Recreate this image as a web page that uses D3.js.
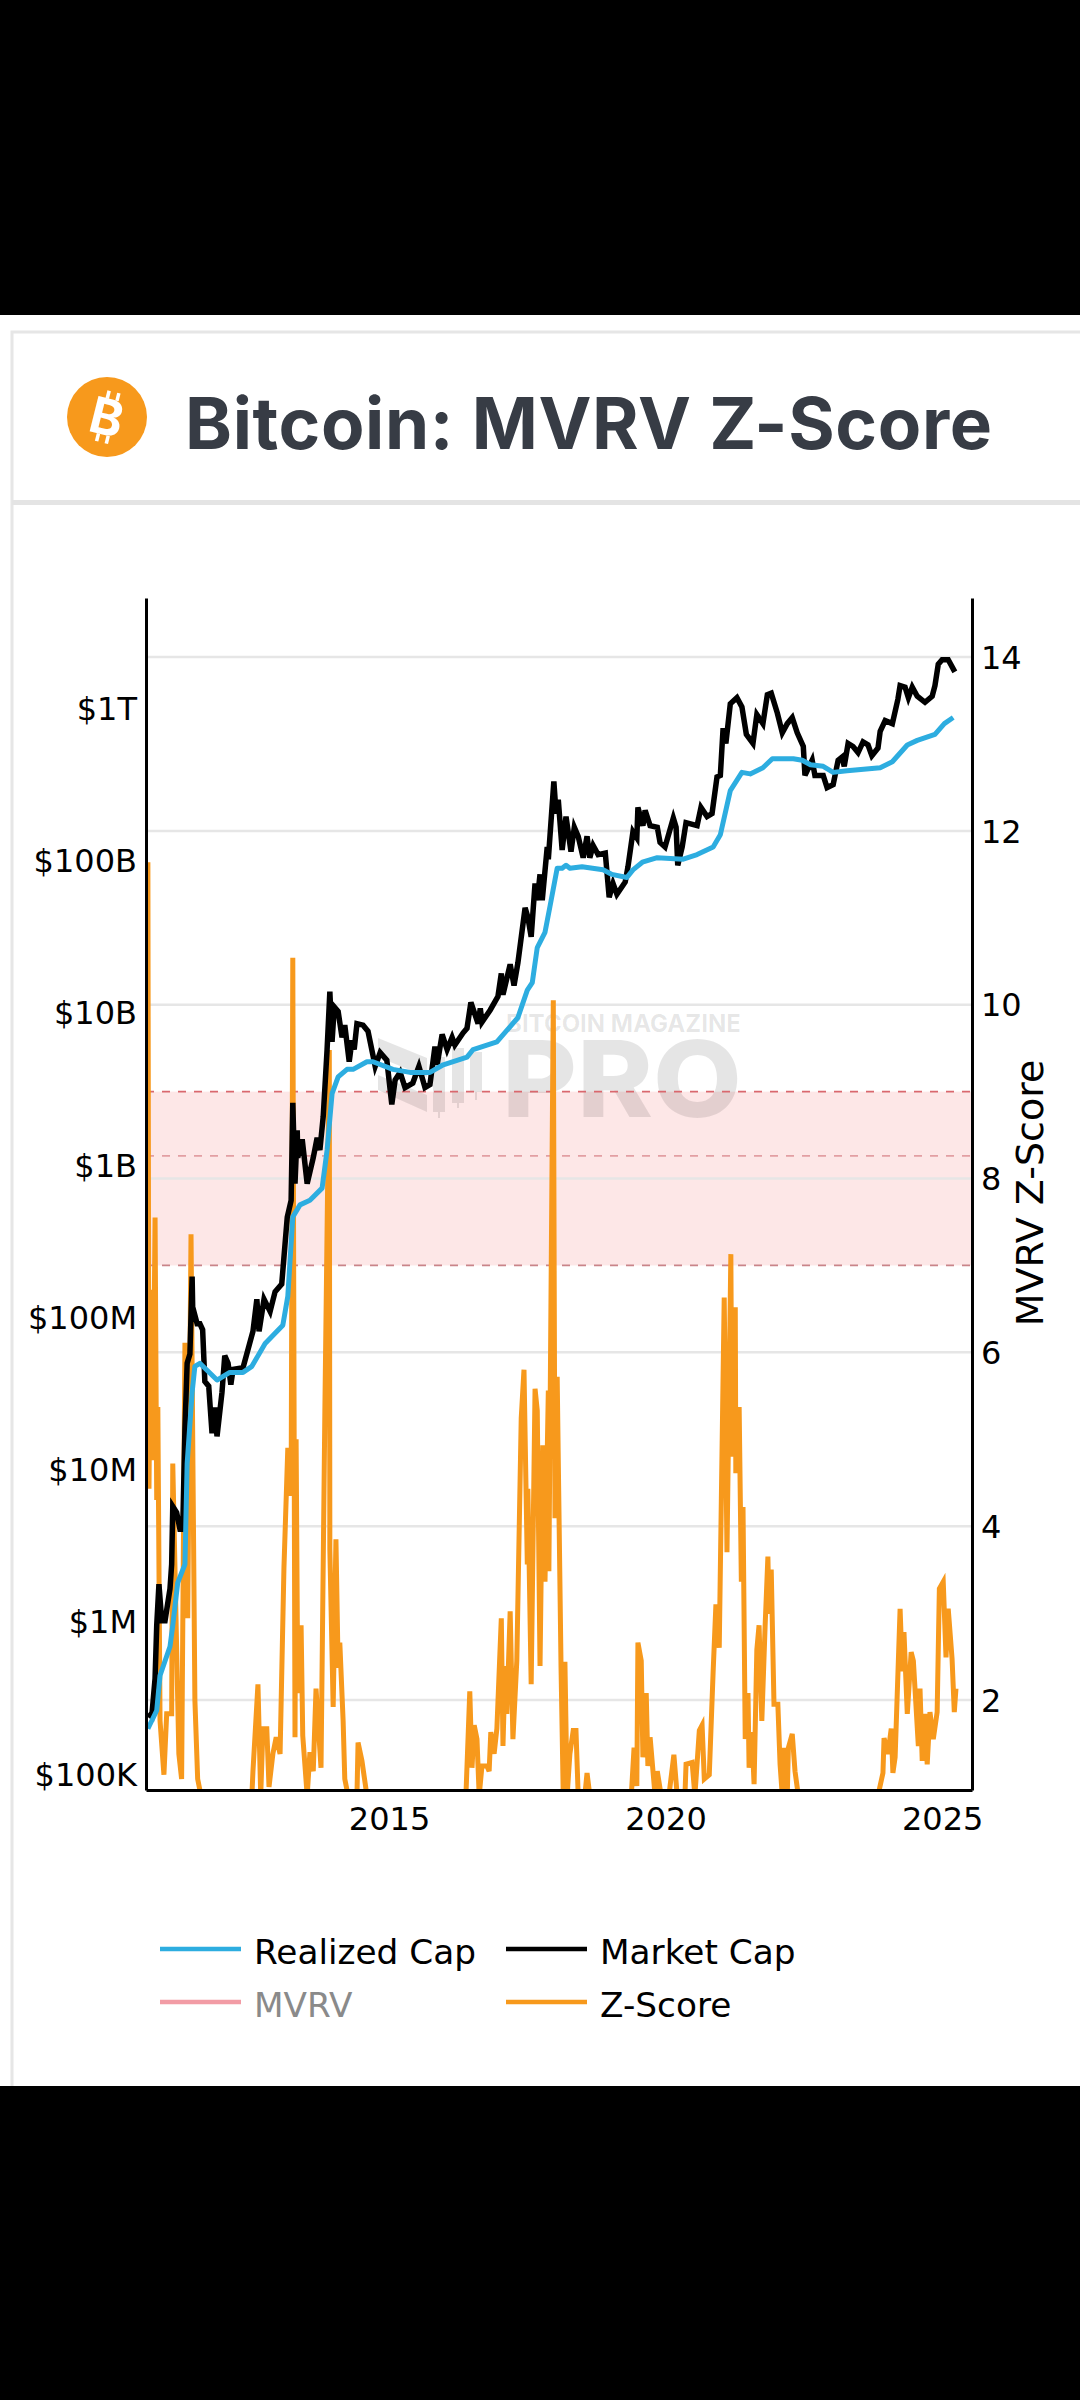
<!DOCTYPE html>
<html>
<head>
<meta charset="utf-8">
<title>Bitcoin: MVRV Z-Score</title>
<script src="https://cdn.jsdelivr.net/npm/d3@7"></script>
<style>
  html, body { margin: 0; padding: 0; background: #000; }
  svg { display: block; }
  text { font-family: "DejaVu Sans", sans-serif; }
</style>
</head>
<body>
<svg id="chart" width="1080" height="2400"></svg>
<script>
// values, x in decimal years, caps as log10 of USD
const marketYears = [2010.64,2010.71,2010.77,2010.80,2010.84,2010.89,2010.95,2011.04,2011.07,2011.09,2011.16,2011.22,2011.27,2011.31,2011.35,2011.40,2011.44,2011.45,2011.53,2011.58,2011.63,2011.67,2011.74,2011.80,2011.85,2011.89,2011.98,2012.03,2012.09,2012.14,2012.18,2012.36,2012.45,2012.54,2012.61,2012.65,2012.74,2012.85,2012.94,2013.06,2013.16,2013.23,2013.26,2013.30,2013.34,2013.35,2013.43,2013.52,2013.63,2013.70,2013.75,2013.81,2013.88,2013.93,2013.97,2014.01,2014.08,2014.15,2014.20,2014.28,2014.33,2014.37,2014.42,2014.53,2014.62,2014.75,2014.84,2014.96,2015.05,2015.11,2015.20,2015.29,2015.43,2015.54,2015.65,2015.74,2015.83,2015.87,2015.96,2016.05,2016.14,2016.19,2016.34,2016.41,2016.48,2016.61,2016.65,2016.68,2016.83,2016.97,2017.03,2017.06,2017.19,2017.26,2017.33,2017.46,2017.51,2017.57,2017.64,2017.68,2017.73,2017.77,2017.86,2017.88,2017.98,2018.02,2018.06,2018.13,2018.20,2018.29,2018.35,2018.42,2018.51,2018.58,2018.63,2018.69,2018.78,2018.91,2018.98,2019.05,2019.12,2019.27,2019.32,2019.41,2019.48,2019.50,2019.59,2019.63,2019.72,2019.85,2019.90,2019.99,2020.14,2020.19,2020.22,2020.30,2020.37,2020.57,2020.64,2020.75,2020.84,2020.93,2020.99,2021.04,2021.09,2021.17,2021.29,2021.38,2021.46,2021.58,2021.65,2021.76,2021.84,2021.91,2022.02,2022.11,2022.20,2022.29,2022.38,2022.49,2022.52,2022.65,2022.70,2022.85,2022.92,2023.03,2023.12,2023.19,2023.23,2023.30,2023.39,2023.48,2023.57,2023.66,2023.73,2023.84,2023.88,2023.97,2024.10,2024.20,2024.24,2024.33,2024.39,2024.46,2024.55,2024.69,2024.82,2024.87,2024.93,2025.00,2025.11,2025.23];
const marketCapLog10 = [5.39,5.37,5.62,5.97,6.24,6.00,6.00,6.21,6.37,6.75,6.71,6.60,6.60,7.26,7.69,7.75,8.26,8.06,7.95,7.95,7.91,7.57,7.54,7.23,7.40,7.21,7.50,7.74,7.69,7.55,7.65,7.66,7.78,7.90,8.11,7.90,8.11,8.03,8.16,8.21,8.65,8.76,9.40,8.87,9.22,9.04,9.16,8.87,9.04,9.17,9.09,9.31,9.75,10.13,9.80,10.03,10.00,9.83,9.91,9.67,9.81,9.75,9.92,9.91,9.87,9.64,9.73,9.68,9.39,9.55,9.60,9.50,9.53,9.64,9.50,9.52,9.77,9.65,9.85,9.75,9.83,9.78,9.86,9.89,10.06,9.92,10.02,9.93,10.01,10.10,10.25,10.11,10.31,10.17,10.32,10.68,10.62,10.49,10.84,10.73,10.90,10.73,11.08,11.00,11.51,11.30,11.39,11.06,11.28,11.05,11.21,11.15,11.01,11.15,11.01,11.09,11.03,11.04,10.75,10.84,10.77,10.85,10.95,11.18,11.14,11.34,11.22,11.32,11.22,11.21,11.11,11.08,11.27,11.21,10.96,11.08,11.24,11.22,11.34,11.28,11.30,11.54,11.55,11.86,11.76,12.02,12.06,12.00,11.82,11.76,11.95,11.89,12.08,12.09,11.96,11.83,11.89,11.93,11.83,11.74,11.55,11.65,11.55,11.55,11.47,11.49,11.65,11.67,11.61,11.76,11.74,11.70,11.77,11.75,11.68,11.73,11.84,11.91,11.89,12.05,12.14,12.13,12.06,12.13,12.07,12.03,12.07,12.14,12.28,12.31,12.31,12.23];

const realizedYears = [2010.64,2010.80,2010.86,2011.04,2011.09,2011.18,2011.31,2011.35,2011.44,2011.49,2011.58,2011.89,2012.12,2012.36,2012.52,2012.76,2013.08,2013.17,2013.26,2013.39,2013.57,2013.79,2013.88,2013.97,2014.08,2014.24,2014.35,2014.60,2014.71,2015.07,2015.38,2015.74,2015.98,2016.41,2016.52,2016.95,2017.33,2017.50,2017.59,2017.68,2017.82,2017.91,2018.04,2018.13,2018.20,2018.27,2018.49,2018.87,2019.03,2019.30,2019.41,2019.58,2019.85,2020.32,2020.57,2020.86,2020.99,2021.17,2021.38,2021.53,2021.76,2021.93,2022.31,2022.47,2022.62,2022.85,2023.03,2023.28,2023.88,2024.10,2024.37,2024.55,2024.87,2025.04,2025.20];
const realizedCapLog10 = [5.29,5.41,5.64,5.83,5.97,6.25,6.37,7.03,7.50,7.67,7.69,7.58,7.63,7.63,7.67,7.82,7.94,8.13,8.65,8.73,8.76,8.84,9.09,9.46,9.57,9.62,9.62,9.67,9.67,9.62,9.60,9.60,9.65,9.70,9.75,9.80,9.96,10.14,10.19,10.42,10.52,10.69,10.94,10.94,10.96,10.94,10.95,10.93,10.90,10.88,10.93,10.98,11.01,11.00,11.03,11.08,11.16,11.45,11.57,11.56,11.60,11.66,11.66,11.65,11.62,11.61,11.57,11.58,11.60,11.64,11.75,11.78,11.82,11.89,11.93];

const zYears = [2010.64,2010.66,2010.69,2010.73,2010.77,2010.80,2010.82,2010.86,2010.93,2010.98,2011.07,2011.09,2011.20,2011.25,2011.31,2011.36,2011.42,2011.49,2011.54,2011.60,2012.52,2012.54,2012.63,2012.68,2012.72,2012.79,2012.83,2012.90,2012.96,2013.03,2013.10,2013.17,2013.23,2013.26,2013.30,2013.32,2013.35,2013.41,2013.44,2013.52,2013.57,2013.63,2013.68,2013.77,2013.84,2013.92,2013.93,2013.99,2014.04,2014.08,2014.11,2014.17,2014.20,2014.26,2014.42,2014.44,2014.51,2014.60,2016.39,2016.46,2016.50,2016.54,2016.59,2016.63,2016.68,2016.77,2016.81,2016.84,2016.90,2016.95,2017.03,2017.06,2017.10,2017.13,2017.19,2017.24,2017.31,2017.39,2017.44,2017.50,2017.51,2017.57,2017.64,2017.68,2017.73,2017.78,2017.82,2017.88,2017.89,2017.97,2018.00,2018.04,2018.11,2018.15,2018.18,2018.22,2018.27,2018.33,2018.38,2018.42,2018.54,2018.58,2018.63,2019.38,2019.43,2019.48,2019.50,2019.56,2019.59,2019.65,2019.68,2019.72,2019.81,2019.85,2019.92,2020.06,2020.15,2020.21,2020.35,2020.37,2020.48,2020.53,2020.61,2020.66,2020.70,2020.79,2020.86,2020.91,2020.97,2021.06,2021.11,2021.18,2021.20,2021.26,2021.27,2021.33,2021.37,2021.40,2021.44,2021.49,2021.51,2021.56,2021.60,2021.65,2021.69,2021.74,2021.80,2021.85,2021.87,2021.91,2021.96,2022.03,2022.07,2022.11,2022.14,2022.20,2022.22,2022.29,2022.34,2022.40,2023.84,2023.93,2023.95,2024.02,2024.08,2024.11,2024.15,2024.24,2024.28,2024.31,2024.37,2024.44,2024.48,2024.57,2024.60,2024.64,2024.69,2024.73,2024.78,2024.84,2024.91,2024.95,2025.02,2025.07,2025.11,2025.18,2025.22,2025.25];
const zScore = [11.64,4.43,6.72,4.76,7.55,4.30,5.37,1.76,1.14,1.84,1.84,4.72,1.38,1.09,6.11,2.94,7.36,2.00,1.09,0.90,0.90,1.18,2.18,0.90,1.67,1.67,1.00,1.38,1.57,1.38,3.52,4.90,4.35,10.54,1.57,5.00,2.08,2.86,1.59,0.90,1.40,1.18,2.13,1.22,5.33,9.48,3.73,1.92,3.85,2.37,2.66,1.76,1.09,0.90,0.90,1.51,1.30,0.90,0.90,2.10,1.22,1.71,1.55,0.90,1.24,1.24,1.18,1.63,1.38,1.67,2.94,1.47,2.39,1.84,3.02,1.55,2.45,5.24,5.80,3.56,4.43,2.18,5.58,5.33,2.39,4.93,3.36,5.56,3.48,10.05,4.09,5.72,2.37,0.90,2.44,0.90,1.38,1.65,1.65,0.90,0.90,1.16,0.90,0.90,1.45,1.01,2.66,2.45,1.34,2.08,1.24,1.57,0.90,1.18,0.90,0.90,1.37,0.90,0.90,1.26,1.28,0.90,1.65,1.71,1.09,1.14,2.33,3.10,2.60,6.63,3.70,7.13,4.80,6.52,4.61,5.37,3.36,4.22,1.55,2.08,1.22,1.63,1.03,2.58,2.86,1.76,2.86,3.65,2.99,3.50,1.95,1.95,1.26,0.90,1.45,0.90,1.45,1.61,1.18,0.90,0.90,1.16,1.56,1.38,1.67,1.16,1.34,3.05,2.33,2.78,1.84,2.55,2.45,1.47,2.13,1.30,1.84,1.26,1.86,1.55,1.86,3.28,3.36,2.49,3.05,2.47,1.86,2.13];

const capTicks = [1e5, 1e6, 1e7, 1e8, 1e9, 1e10, 1e11, 1e12];
const capLabels = ['$100K', '$1M', '$10M', '$100M', '$1B', '$10B', '$100B', '$1T'];
const zTicks = [2, 4, 6, 8, 10, 12, 14];
const yearTicks = [2015, 2020, 2025];
const bandLevels = [9, 7];    // edges of the red zone on the Z axis
const midLevel = 8.26;        // fainter dashed line inside the zone
const legendNames = [['Realized Cap', 'Market Cap'], ['MVRV', 'Z-Score']];

const colors = {
  realized: '#2dade0',
  market: '#000000',
  mvrv: '#f29ca5',
  z: '#f7991c',
  band: '#fde7e7',
  grid: '#e6e6e6',
  title: '#373c45'
};

const plot = { left: 146, right: 972, top: 598, bottom: 1790 };

const svg = d3.select('#chart');

const x = d3.scaleLinear().domain([2010.606, 2025.54]).range([plot.left, plot.right]);
const yCap = d3.scaleLog().domain([Math.pow(10, 4.888), Math.pow(10, 12.715)]).range([plot.bottom, plot.top]);
const yZ = d3.scaleLinear().domain([0.964, 14.68]).range([plot.bottom, plot.top]);

// small helper, d3 v7 has no attrs() without d3-selection-multi
d3.selection.prototype.attrs_ = function (map) {
  Object.keys(map).forEach(k => this.attr(k, map[k]));
  return this;
};

function drawPage() {
  svg.append('rect').attrs_({ x: 0, y: 315, width: 1080, height: 1771, fill: '#fff' });
  svg.append('rect').attrs_({ x: 12, y: 332, width: 1070, height: 1756, fill: '#fff', stroke: '#e6e6e6', 'stroke-width': 3 });
  svg.append('rect').attrs_({ x: 12, y: 500, width: 1068, height: 5, fill: '#e4e4e4' });
  svg.append('rect').attrs_({ x: 0, y: 2086, width: 1080, height: 314, fill: '#000' });

  // coin icon
  const coin = svg.append('g').attr('transform', 'translate(107,417)');
  coin.append('circle').attrs_({ r: 40, fill: colors.z });
  const glyph = coin.append('g').attr('transform', 'rotate(14)').attr('fill', '#fff');
  glyph.append('text')
    .attrs_({ 'text-anchor': 'middle', y: 18, 'font-size': 50, 'font-weight': 700 })
    .style('font-family', 'Inter, sans-serif')
    .text('B');
  [-6, 4].forEach(dx => {
    glyph.append('rect').attrs_({ x: dx, y: -26, width: 3.5, height: 8 });
    glyph.append('rect').attrs_({ x: dx, y: 18, width: 3.5, height: 8 });
  });

  svg.append('text')
    .attrs_({ x: 185, y: 449, 'font-size': 71, 'font-weight': 700, fill: colors.title })
    .style('font-family', 'Inter, sans-serif')
    .style('letter-spacing', '0.65px')
    .text('Bitcoin: MVRV Z-Score');
}

function drawWatermark() {
  const mark = svg.append('g').attr('fill', '#000').attr('fill-opacity', 0.1);
  mark.append('text')
    .attrs_({ x: 506, y: 1032, 'font-size': 24, 'font-weight': 700 })
    .style('font-family', 'Inter, sans-serif')
    .text('BITCOIN MAGAZINE');
  mark.append('text')
    .attrs_({ x: 502, y: 1117, 'font-size': 106, 'font-weight': 800, textLength: 240, lengthAdjust: 'spacingAndGlyphs' })
    .style('font-family', 'Inter, sans-serif')
    .text('PRO');
  // logo: two slanted strips and three candles with wicks
  mark.append('path').attr('d', 'M378,1038 L427,1058 L427,1077 L378,1057 Z');
  mark.append('path').attr('d', 'M378,1075 L427,1095 L427,1112 L378,1090 Z');
  [[433, 1057, 1112, 1118], [452, 1048, 1103, 1108], [470, 1052, 1092, 1100]].forEach(c => {
    mark.append('rect').attrs_({ x: c[0], y: c[1], width: 12, height: c[2] - c[1] });
    mark.append('rect').attrs_({ x: c[0] + 5, y: c[2], width: 2, height: c[3] - c[2] });
  });
}

function drawBand() {
  svg.append('rect').attrs_({
    x: plot.left,
    y: yZ(bandLevels[0]),
    width: plot.right - plot.left,
    height: yZ(bandLevels[1]) - yZ(bandLevels[0]),
    fill: colors.band
  });
}

function drawGrid() {
  svg.append('g').selectAll('line').data(zTicks).enter().append('line')
    .attrs_({
      x1: plot.left,
      x2: plot.right,
      y1: d => yZ(d),
      y2: d => yZ(d),
      stroke: colors.grid,
      'stroke-width': 2.5
    });
}

function drawDashes() {
  const dashed = [[bandLevels[0], '#d9686e'], [midLevel, '#e29fa3'], [bandLevels[1], '#c98489']];
  svg.append('g').selectAll('line').data(dashed).enter().append('line')
    .attrs_({
      x1: plot.left,
      x2: plot.right,
      y1: d => yZ(d[0]),
      y2: d => yZ(d[0]),
      stroke: d => d[1],
      'stroke-width': 1.8,
      'stroke-dasharray': '8 8'
    });
}

function drawLines() {
  svg.append('clipPath').attr('id', 'plot-clip').append('rect')
    .attrs_({ x: plot.left, y: plot.top, width: plot.right - plot.left, height: plot.bottom - plot.top });
  const g = svg.append('g').attr('clip-path', 'url(#plot-clip)').attr('fill', 'none').attr('stroke-linejoin', 'miter');

  const zLine = d3.line().x(d => x(d[0])).y(d => yZ(d[1]));
  const capLine = d3.line().x(d => x(d[0])).y(d => yCap(Math.pow(10, d[1])));

  g.append('path').attr('d', zLine(d3.zip(zYears, zScore)))
    .attr('stroke', colors.z).attr('stroke-width', 5);
  g.append('path').attr('d', capLine(d3.zip(marketYears, marketCapLog10)))
    .attr('stroke', colors.market).attr('stroke-width', 5.5);
  g.append('path').attr('d', capLine(d3.zip(realizedYears, realizedCapLog10)))
    .attr('stroke', colors.realized).attr('stroke-width', 5).attr('stroke-linejoin', 'round');
}

function styleAxis(g) {
  g.selectAll('.tick line').remove();
  g.selectAll('.domain').attr('stroke', '#000').attr('stroke-width', 3);
  g.selectAll('text').attr('fill', '#000').attr('font-size', 32).style('font-family', '"DejaVu Sans", sans-serif');
}

function drawAxes() {
  const axisLeft = d3.axisLeft(yCap).tickValues(capTicks).tickFormat((d, i) => capLabels[i]).tickSize(0).tickPadding(9);
  const axisRight = d3.axisRight(yZ).tickValues(zTicks).tickFormat(d3.format('d')).tickSize(0).tickPadding(9);
  const axisBottom = d3.axisBottom(x).tickValues(yearTicks).tickFormat(d3.format('d')).tickSize(0).tickPadding(17);

  svg.append('g').attr('transform', `translate(${plot.left},2)`).call(axisLeft).call(styleAxis)
    .select('.domain').attr('transform', 'translate(0,-2)');
  svg.append('g').attr('transform', `translate(${plot.right},1)`).call(axisRight).call(styleAxis)
    .select('.domain').attr('transform', 'translate(0,-1)');
  svg.append('g').attr('transform', `translate(0,${plot.bottom})`).call(axisBottom).call(styleAxis);

  svg.append('text')
    .attrs_({ transform: 'translate(1043,1193) rotate(-90)', 'text-anchor': 'middle', 'font-size': 38, fill: '#000' })
    .text('MVRV Z-Score');
}

function drawLegend() {
  const rows = [[colors.realized, colors.market], [colors.mvrv, colors.z]];
  const colX = [160, 506];
  const rowY = [1949, 2002];
  legendNames.forEach((names, r) => {
    names.forEach((name, c) => {
      svg.append('line').attrs_({
        x1: colX[c],
        x2: colX[c] + 81,
        y1: rowY[r],
        y2: rowY[r],
        stroke: rows[r][c],
        'stroke-width': 4.5
      });
      svg.append('text').attrs_({
        x: colX[c] + 94,
        y: rowY[r] + 15,
        'font-size': 34.3,
        fill: name === 'MVRV' ? '#8a8a8a' : '#000'
      }).text(name);
    });
  });
}

drawPage();
drawBand();
drawGrid();
drawWatermark();
drawDashes();
drawLines();
drawAxes();
drawLegend();
</script>
</body>
</html>
